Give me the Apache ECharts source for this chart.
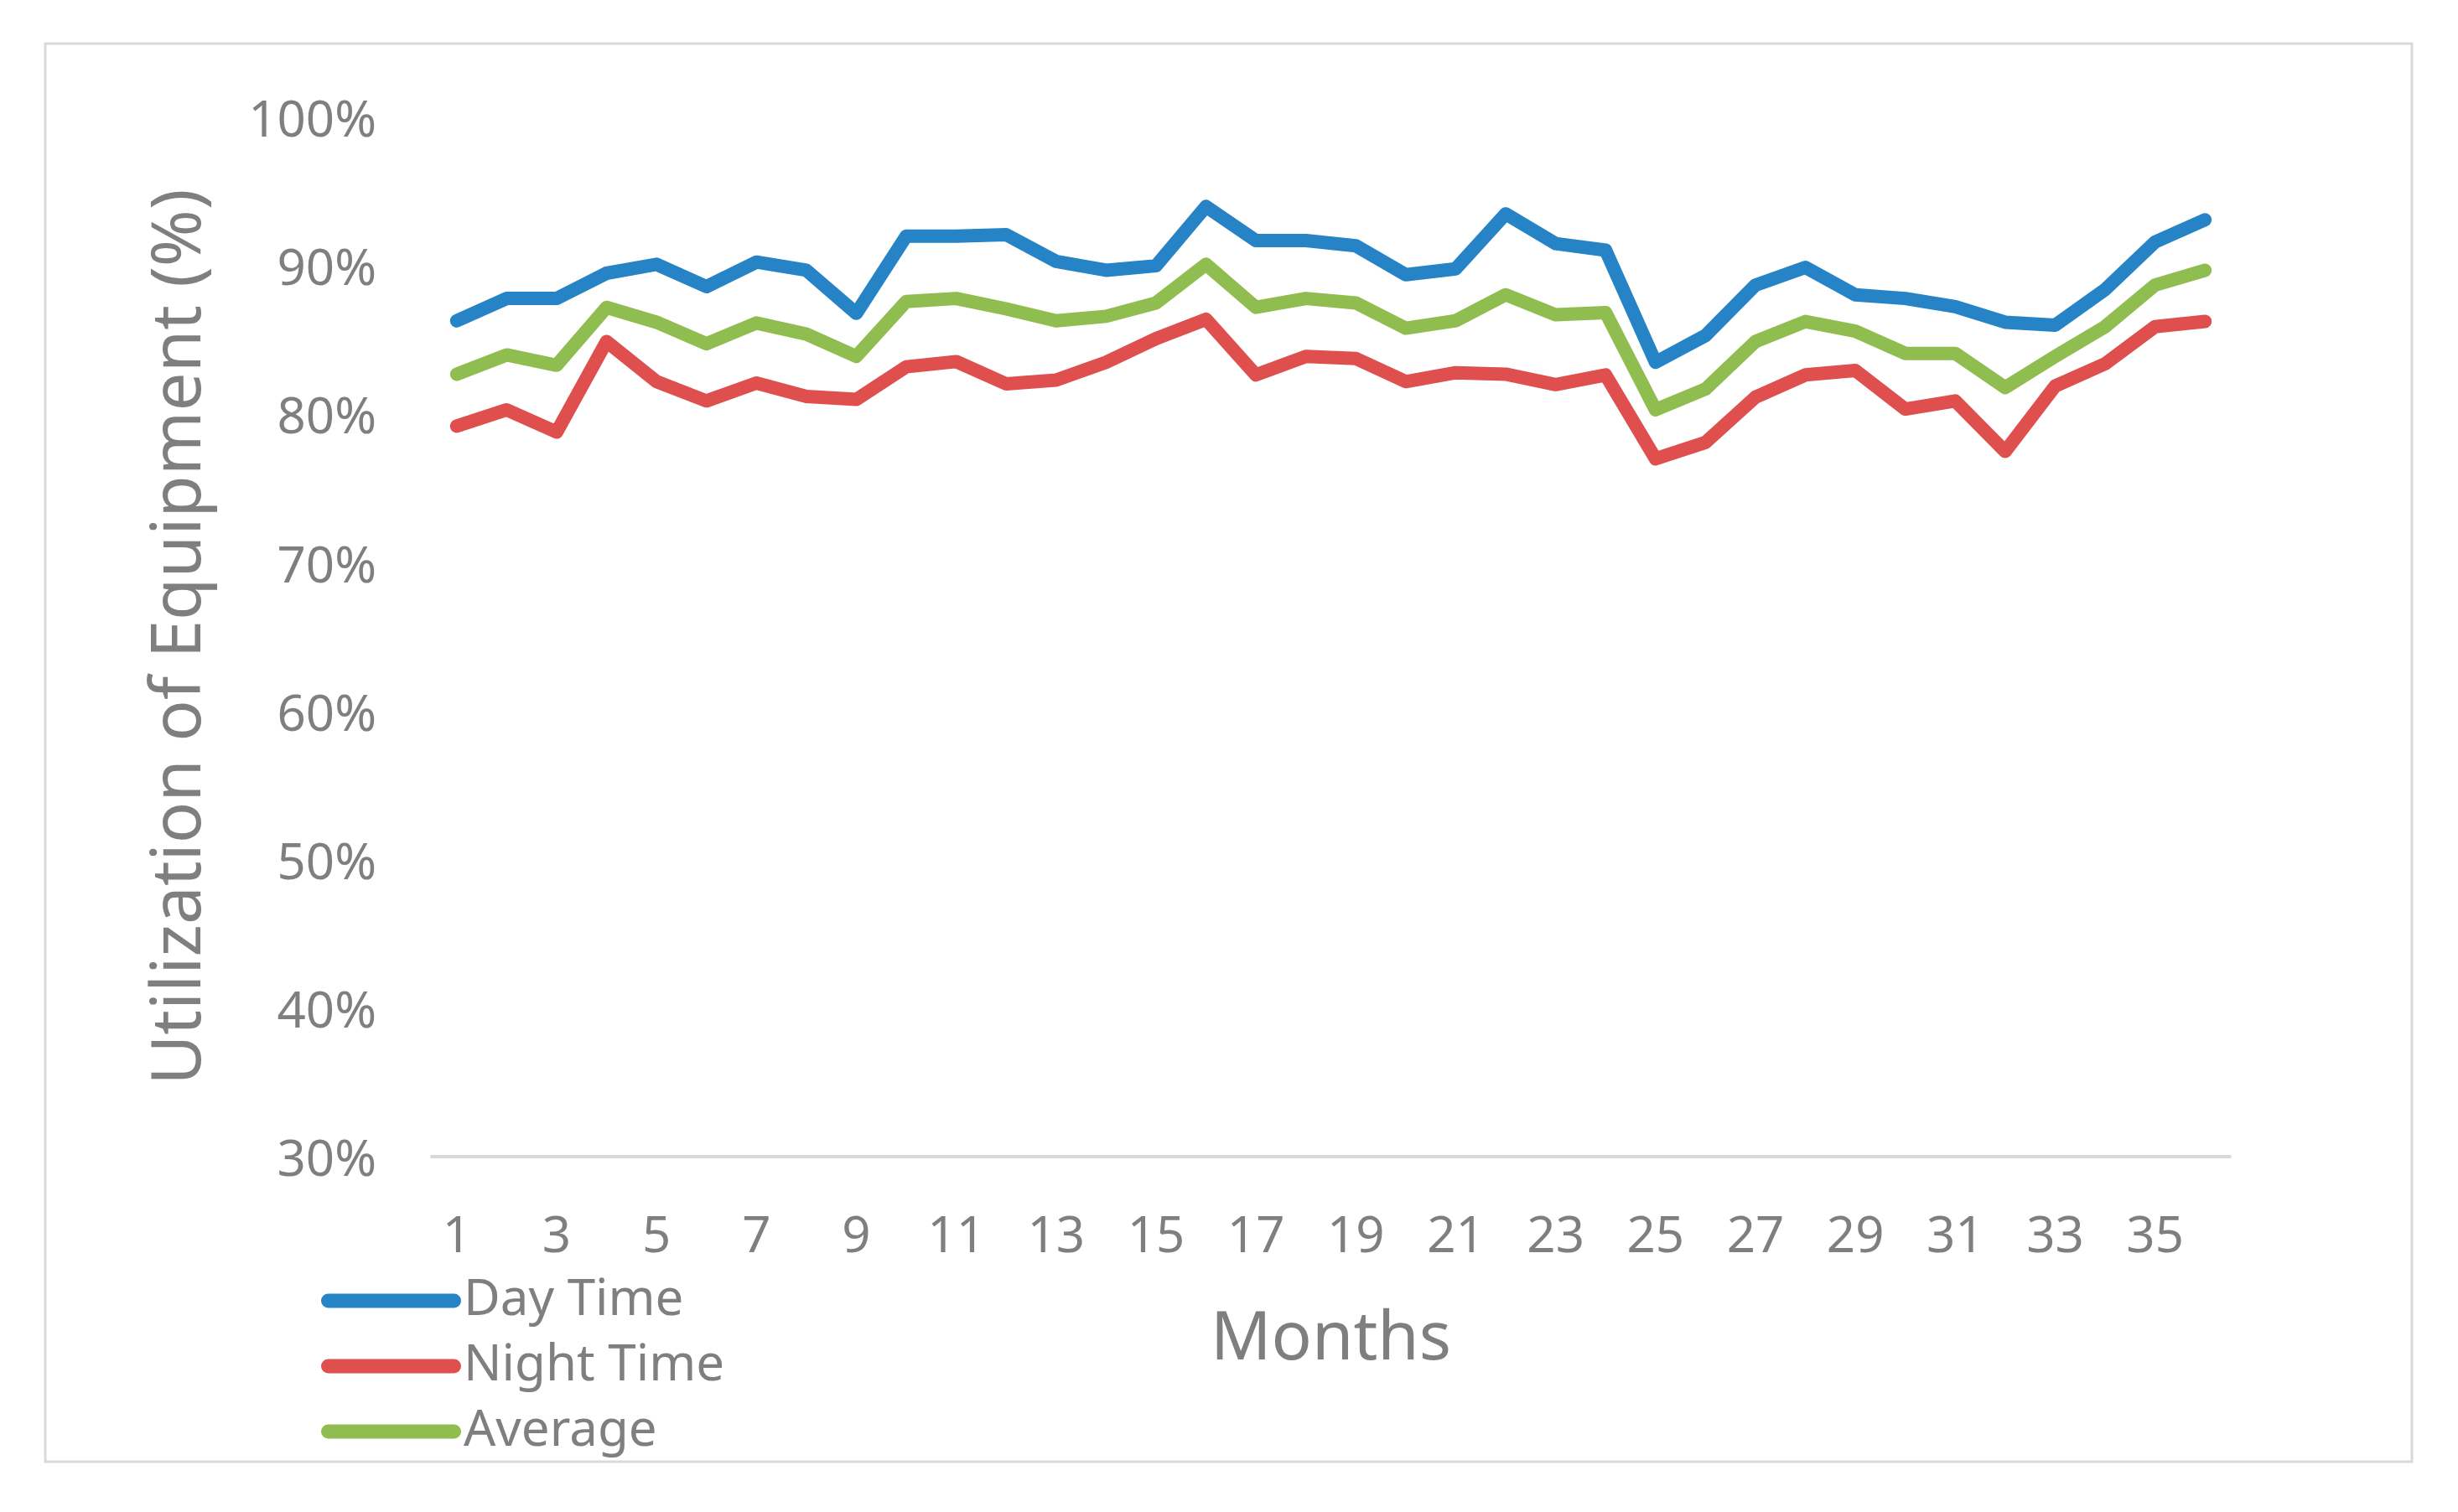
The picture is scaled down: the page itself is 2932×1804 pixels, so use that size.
<!DOCTYPE html>
<html>
<head>
<meta charset="utf-8">
<script src="https://cdn.jsdelivr.net/npm/echarts@6/dist/echarts.min.js"></script>
<style>
html,body{margin:0;padding:0;background:#fff;}
#chart{width:2932px;height:1804px;}
</style>
</head>
<body>
<div id="chart"></div>
<script>
var months = ['1','2','3','4','5','6','7','8','9','10','11','12','13','14','15','16','17','18','19','20','21','22','23','24','25','26','27','28','29','30','31','32','33','34','35','36'];
var dayTime = [86.3, 87.8, 87.8, 89.5, 90.1, 88.6, 90.25, 89.7, 86.8, 92.0, 92.0, 92.1, 90.3, 89.7, 90.0, 94.0, 91.7, 91.7, 91.35, 89.4, 89.8, 93.5, 91.5, 91.05, 83.5, 85.3, 88.7, 89.9, 88.05, 87.8, 87.25, 86.2, 86.0, 88.4, 91.6, 93.1];
var nightTime = [79.2, 80.3, 78.8, 84.9, 82.2, 80.9, 82.1, 81.2, 81.0, 83.2, 83.55, 82.05, 82.3, 83.5, 85.1, 86.4, 82.65, 83.9, 83.75, 82.2, 82.8, 82.7, 82.0, 82.65, 77.0, 78.1, 81.15, 82.65, 82.95, 80.35, 80.9, 77.5, 81.9, 83.4, 85.9, 86.25];
var average = [82.7, 84.0, 83.3, 87.2, 86.2, 84.75, 86.15, 85.4, 83.9, 87.6, 87.8, 87.1, 86.3, 86.6, 87.5, 90.1, 87.2, 87.8, 87.5, 85.8, 86.3, 88.05, 86.7, 86.85, 80.3, 81.7, 84.9, 86.25, 85.6, 84.1, 84.1, 81.8, 83.9, 85.9, 88.7, 89.7];
var seriesNames = ['Day Time', 'Night Time', 'Average'];
var colors = ['#2683C6', '#DE4F4E', '#8FBD50'];

var FONT = 'Noto Sans';
var GRAY = '#7f7f7f';
var legendIcon = 'path://M8.5,0 L158.5,0 A8.5,8.5 0 0 1 158.5,17 L8.5,17 A8.5,8.5 0 0 1 8.5,0 Z';

var chart = echarts.init(document.getElementById('chart'), null, {renderer: 'canvas'});
function mk(name, data, color) {
  return {
    name: name, type: 'line', data: data, symbol: 'none', smooth: false,
    itemStyle: {color: color},
    lineStyle: {color: color, width: 16, cap: 'round', join: 'round'},
    animation: false
  };
}
chart.setOption({
  animation: false,
  backgroundColor: '#fff',
  textStyle: {fontFamily: FONT},
  graphic: [{
    type: 'rect', silent: true, z: -10,
    shape: {x: 54, y: 52, width: 2823, height: 1692},
    style: {fill: '#fff', stroke: '#d9d9d9', lineWidth: 3}
  }],
  grid: {left: 515, right: 272, top: 140, bottom: 424, containLabel: false},
  legend: {
    orient: 'vertical', left: 378, top: 1517,
    itemWidth: 167, itemHeight: 17, itemGap: 18,
    icon: legendIcon,
    data: seriesNames,
    textStyle: {fontFamily: FONT, fontSize: 60, color: GRAY, lineHeight: 60, padding: [0,0,0,-2]}
  },
  xAxis: {
    type: 'category', data: months, boundaryGap: true,
    name: 'Months', nameLocation: 'middle', nameGap: 179,
    nameTextStyle: {fontFamily: FONT, fontSize: 80, color: GRAY},
    axisLine: {show: true, lineStyle: {color: '#d9d9d9', width: 4}},
    axisTick: {show: false},
    axisLabel: {interval: 1, fontFamily: FONT, fontSize: 60, color: GRAY, margin: 67},
    splitLine: {show: false}
  },
  yAxis: {
    type: 'value', min: 30, max: 100, interval: 10,
    name: 'Utilization of Equipment (%)', nameLocation: 'middle', nameGap: 258,
    nameTextStyle: {fontFamily: FONT, fontSize: 82, color: GRAY},
    axisLine: {show: false}, axisTick: {show: false},
    splitLine: {show: false},
    axisLabel: {
      formatter: '{p|{value}%}', margin: 66,
      rich: {p: {fontFamily: FONT, fontSize: 60, color: GRAY, padding: [12, 0, 0, 0]}}
    }
  },
  series: [
    mk(seriesNames[0], dayTime, colors[0]),
    mk(seriesNames[1], nightTime, colors[1]),
    mk(seriesNames[2], average, colors[2])
  ]
});
</script>
</body>
</html>
